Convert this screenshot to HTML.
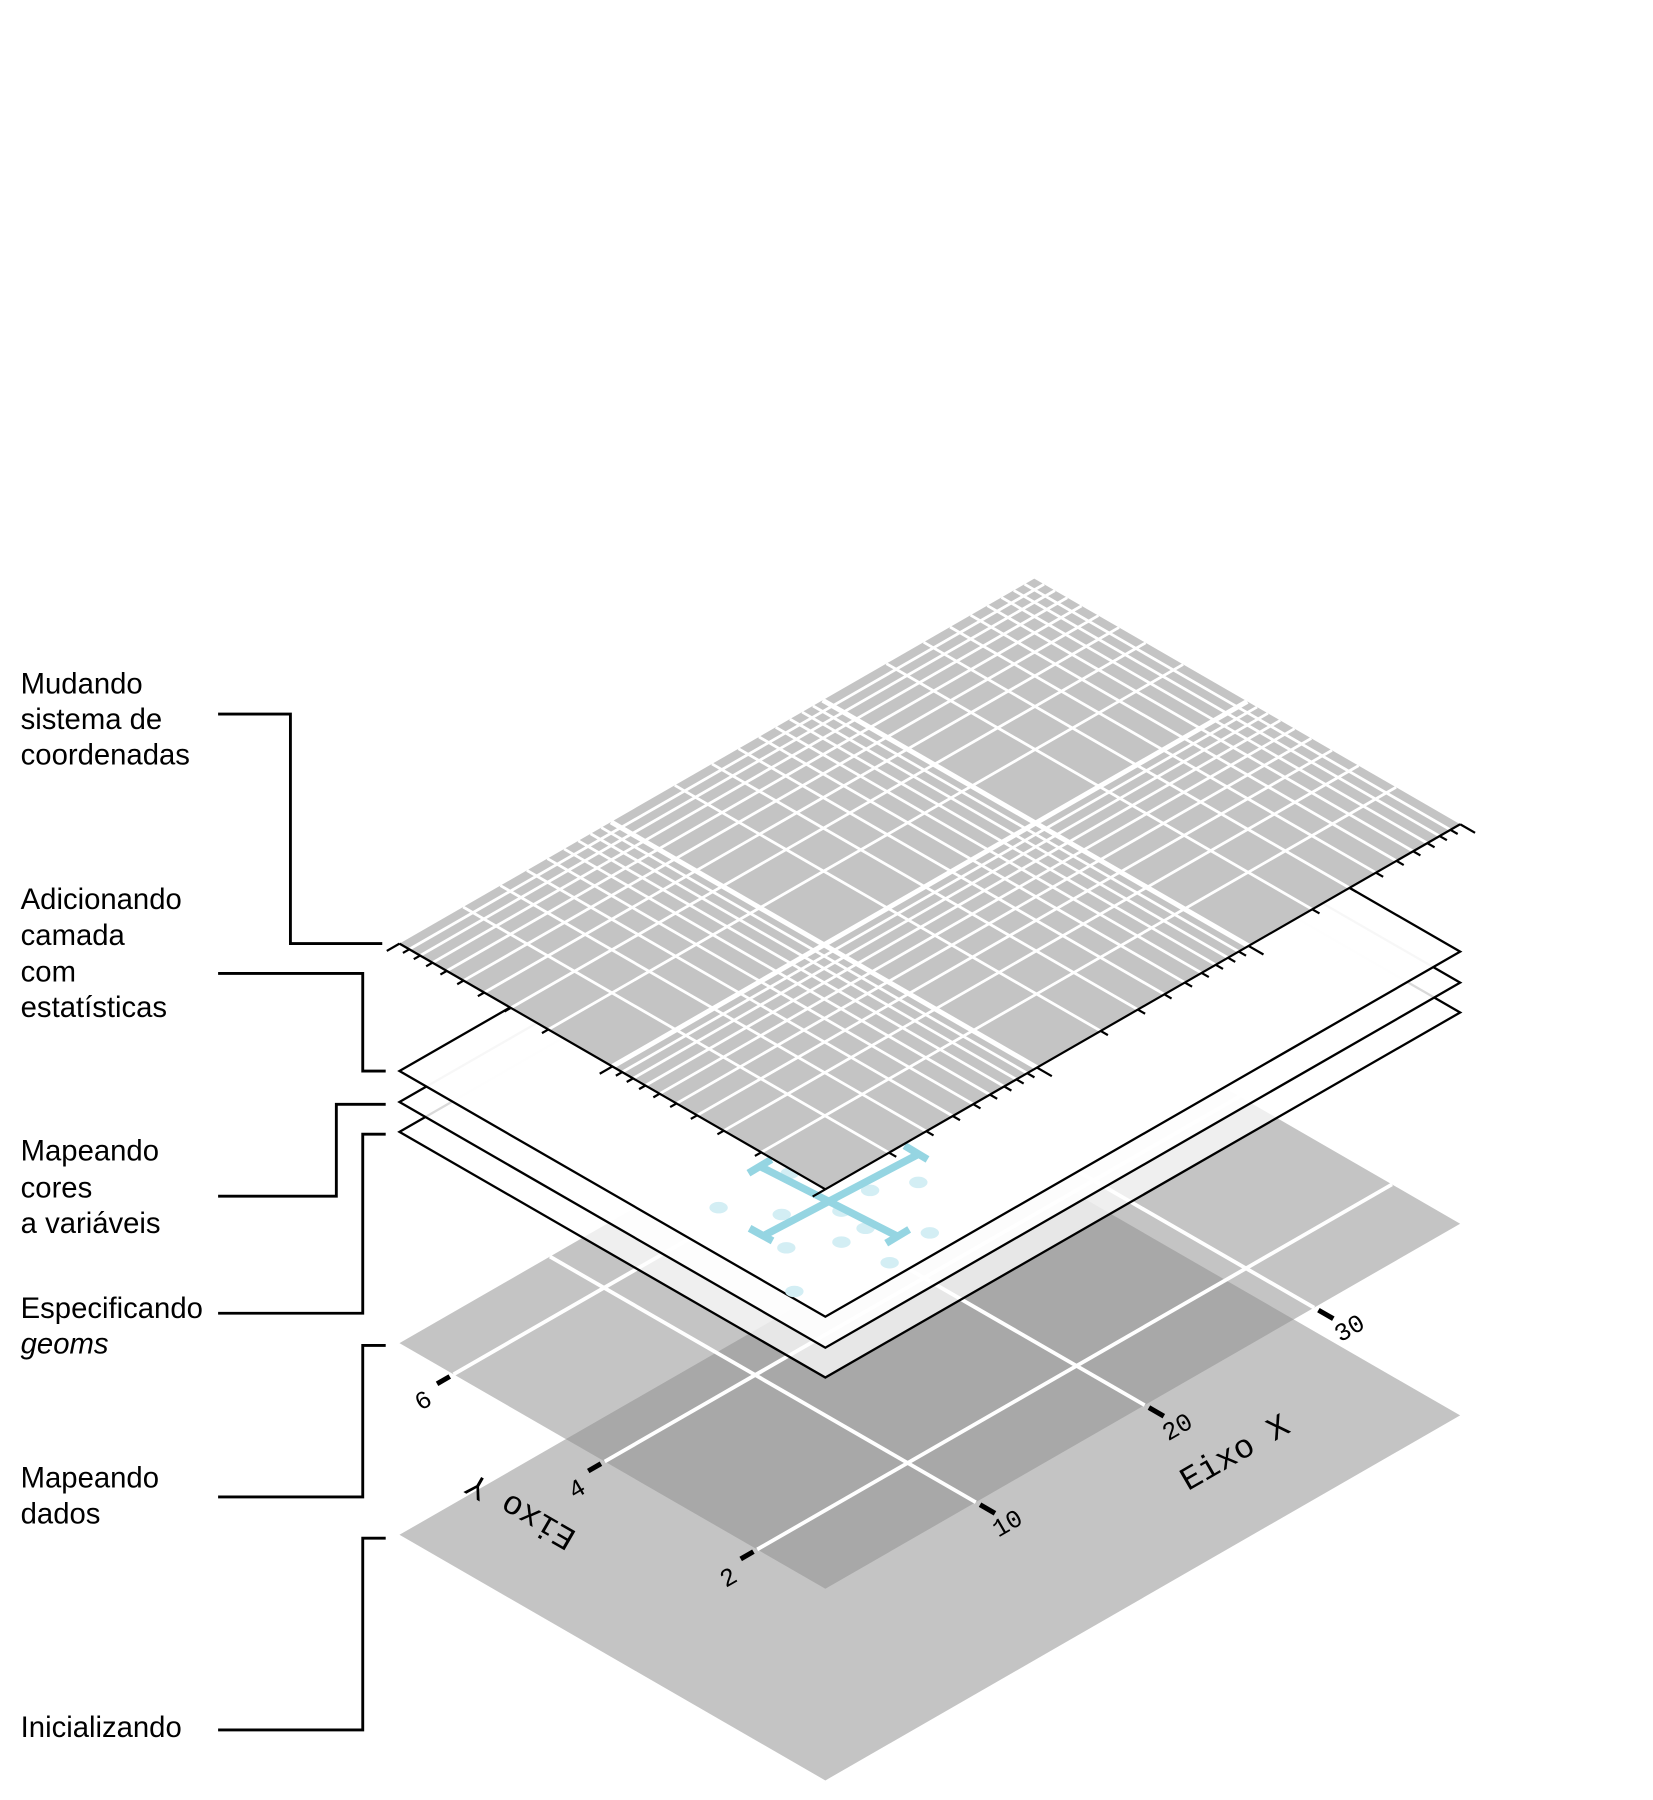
<!DOCTYPE html>
<html><head><meta charset="utf-8"><style>html,body{margin:0;padding:0;background:#fff}svg{display:block}</style></head>
<body>
<svg xmlns="http://www.w3.org/2000/svg" width="1653" height="1800" viewBox="0 0 1440 1568">
<defs>
<clipPath id="p2"><polygon points="348,1170 719,1384 1272,1066 901,852"/></clipPath>
</defs>
<polygon points="348,1337 719,1551 1272,1233 901,1019" fill="#c4c4c4"/>
<polygon points="348,1170 719,1384 1272,1066 901,852" fill="#c4c4c4"/>
<polygon points="348,1337 719,1551 1272,1233 901,1019" fill="#a8a8a8" clip-path="url(#p2)"/>
<g transform="matrix(553,-318,371,214,348,1170)" stroke="#fff" stroke-width="3.8" fill="none">
 <line x1="0.237" y1="0" x2="0.237" y2="1" vector-effect="non-scaling-stroke"/>
 <line x1="0.503" y1="0" x2="0.503" y2="1" vector-effect="non-scaling-stroke"/>
 <line x1="0.77" y1="0" x2="0.77" y2="1" vector-effect="non-scaling-stroke"/>
 <line x1="0" y1="0.127" x2="1" y2="0.127" vector-effect="non-scaling-stroke"/>
 <line x1="0" y1="0.482" x2="1" y2="0.482" vector-effect="non-scaling-stroke"/>
 <line x1="0" y1="0.84" x2="1" y2="0.84" vector-effect="non-scaling-stroke"/>
</g>
<g transform="matrix(553,-318,371,214,348,1170)" stroke="#000" fill="none">
 <line x1="0.237" y1="1.01" x2="0.237" y2="1.045" stroke-width="5" vector-effect="non-scaling-stroke"/>
 <line x1="0.503" y1="1.01" x2="0.503" y2="1.045" stroke-width="5" vector-effect="non-scaling-stroke"/>
 <line x1="0.77" y1="1.01" x2="0.77" y2="1.045" stroke-width="5" vector-effect="non-scaling-stroke"/>
 <line x1="-0.006" y1="0.127" x2="-0.026" y2="0.127" stroke-width="5" vector-effect="non-scaling-stroke"/>
 <line x1="-0.006" y1="0.482" x2="-0.026" y2="0.482" stroke-width="5" vector-effect="non-scaling-stroke"/>
 <line x1="-0.006" y1="0.84" x2="-0.026" y2="0.84" stroke-width="5" vector-effect="non-scaling-stroke"/>
</g>
<g font-family="Liberation Mono, monospace" font-size="22" fill="#000" text-anchor="middle">
 <text transform="translate(881,1333) rotate(-30)">10</text>
 <text transform="translate(1029,1249) rotate(-30)">20</text>
 <text transform="translate(1179,1163) rotate(-30)">30</text>
 <text transform="translate(372,1226) rotate(-30)">6</text>
 <text transform="translate(506,1303) rotate(-30)">4</text>
 <text transform="translate(638,1380) rotate(-30)">2</text>
 <text font-size="29" transform="translate(1080,1273) rotate(-30)">Eixo X</text>
 <text font-size="29" transform="translate(458,1309) rotate(210)">Eixo Y</text>
</g>
<polygon points="348,986 719,1200 1272,882 901,668" fill="#fff" fill-opacity="0.72" stroke="#000" stroke-width="2"/>
<polygon points="348,960 719,1174 1272,856 901,642" fill="#fff" fill-opacity="0.85" stroke="#000" stroke-width="2"/>
<polygon points="348,933 719,1147 1272,829 901,615" fill="#fff" fill-opacity="0.97" stroke="#000" stroke-width="2"/>
<g fill="#d3eef4">
 <ellipse cx="626" cy="1052" rx="8" ry="5"/><ellipse cx="681" cy="1058" rx="8" ry="5"/>
 <ellipse cx="733" cy="1055" rx="8" ry="5"/><ellipse cx="758" cy="1037" rx="8" ry="5"/>
 <ellipse cx="800" cy="1030" rx="8" ry="5"/><ellipse cx="810" cy="1074" rx="8" ry="5"/>
 <ellipse cx="775" cy="1100" rx="8" ry="5"/><ellipse cx="733" cy="1082" rx="8" ry="5"/>
 <ellipse cx="685" cy="1087" rx="8" ry="5"/><ellipse cx="754" cy="1070" rx="8" ry="5"/>
 <ellipse cx="692" cy="1125" rx="8" ry="5"/><ellipse cx="688" cy="1022" rx="8" ry="5"/>
</g>
<g stroke="#95d5e2" stroke-width="6.5" fill="none">
 <line x1="662" y1="1016" x2="782" y2="1077"/>
 <line x1="652" y1="1022" x2="672" y2="1010"/>
 <line x1="772" y1="1083" x2="792" y2="1071"/>
 <line x1="666" y1="1076" x2="801" y2="1005"/>
 <line x1="653" y1="1070" x2="673" y2="1081"/>
 <line x1="788" y1="998" x2="808" y2="1010"/>
</g>
<polygon points="348,822 719,1036 1272,718 901,504" fill="#c4c4c4"/>
<g transform="matrix(553,-318,371,214,348,822)" stroke="#fff" fill="none">
 <g stroke-width="2.8">
 <line x1=".1003" y1="0" x2=".1003" y2="1" vector-effect="non-scaling-stroke"/>
 <line x1=".159" y1="0" x2=".159" y2="1" vector-effect="non-scaling-stroke"/>
 <line x1=".2007" y1="0" x2=".2007" y2="1" vector-effect="non-scaling-stroke"/>
 <line x1=".233" y1="0" x2=".233" y2="1" vector-effect="non-scaling-stroke"/>
 <line x1=".2593" y1="0" x2=".2593" y2="1" vector-effect="non-scaling-stroke"/>
 <line x1=".2817" y1="0" x2=".2817" y2="1" vector-effect="non-scaling-stroke"/>
 <line x1=".301" y1="0" x2=".301" y2="1" vector-effect="non-scaling-stroke"/>
 <line x1=".318" y1="0" x2=".318" y2="1" vector-effect="non-scaling-stroke"/>
 <line x1=".4337" y1="0" x2=".4337" y2="1" vector-effect="non-scaling-stroke"/>
 <line x1=".4923" y1="0" x2=".4923" y2="1" vector-effect="non-scaling-stroke"/>
 <line x1=".534" y1="0" x2=".534" y2="1" vector-effect="non-scaling-stroke"/>
 <line x1=".5663" y1="0" x2=".5663" y2="1" vector-effect="non-scaling-stroke"/>
 <line x1=".5927" y1="0" x2=".5927" y2="1" vector-effect="non-scaling-stroke"/>
 <line x1=".615" y1="0" x2=".615" y2="1" vector-effect="non-scaling-stroke"/>
 <line x1=".6343" y1="0" x2=".6343" y2="1" vector-effect="non-scaling-stroke"/>
 <line x1=".6513" y1="0" x2=".6513" y2="1" vector-effect="non-scaling-stroke"/>
 <line x1=".767" y1="0" x2=".767" y2="1" vector-effect="non-scaling-stroke"/>
 <line x1=".8257" y1="0" x2=".8257" y2="1" vector-effect="non-scaling-stroke"/>
 <line x1=".8673" y1="0" x2=".8673" y2="1" vector-effect="non-scaling-stroke"/>
 <line x1=".8997" y1="0" x2=".8997" y2="1" vector-effect="non-scaling-stroke"/>
 <line x1=".926" y1="0" x2=".926" y2="1" vector-effect="non-scaling-stroke"/>
 <line x1=".9483" y1="0" x2=".9483" y2="1" vector-effect="non-scaling-stroke"/>
 <line x1=".9677" y1="0" x2=".9677" y2="1" vector-effect="non-scaling-stroke"/>
 <line x1=".9847" y1="0" x2=".9847" y2="1" vector-effect="non-scaling-stroke"/>
 <line y1=".3495" x1="0" y2=".3495" x2="1" vector-effect="non-scaling-stroke"/>
 <line y1=".2615" x1="0" y2=".2615" x2="1" vector-effect="non-scaling-stroke"/>
 <line y1=".199" x1="0" y2=".199" x2="1" vector-effect="non-scaling-stroke"/>
 <line y1=".1505" x1="0" y2=".1505" x2="1" vector-effect="non-scaling-stroke"/>
 <line y1=".111" x1="0" y2=".111" x2="1" vector-effect="non-scaling-stroke"/>
 <line y1=".0775" x1="0" y2=".0775" x2="1" vector-effect="non-scaling-stroke"/>
 <line y1=".0485" x1="0" y2=".0485" x2="1" vector-effect="non-scaling-stroke"/>
 <line y1=".023" x1="0" y2=".023" x2="1" vector-effect="non-scaling-stroke"/>
 <line y1=".8495" x1="0" y2=".8495" x2="1" vector-effect="non-scaling-stroke"/>
 <line y1=".7615" x1="0" y2=".7615" x2="1" vector-effect="non-scaling-stroke"/>
 <line y1=".699" x1="0" y2=".699" x2="1" vector-effect="non-scaling-stroke"/>
 <line y1=".6505" x1="0" y2=".6505" x2="1" vector-effect="non-scaling-stroke"/>
 <line y1=".611" x1="0" y2=".611" x2="1" vector-effect="non-scaling-stroke"/>
 <line y1=".5775" x1="0" y2=".5775" x2="1" vector-effect="non-scaling-stroke"/>
 <line y1=".5485" x1="0" y2=".5485" x2="1" vector-effect="non-scaling-stroke"/>
 <line y1=".523" x1="0" y2=".523" x2="1" vector-effect="non-scaling-stroke"/>
 </g>
 <g stroke-width="5">
 <line x1=".3333" y1="0" x2=".3333" y2="1" vector-effect="non-scaling-stroke"/>
 <line x1=".6667" y1="0" x2=".6667" y2="1" vector-effect="non-scaling-stroke"/>
 <line y1=".5" x1="0" y2=".5" x2="1" vector-effect="non-scaling-stroke"/>
 </g>
</g>
<g transform="matrix(553,-318,371,214,348,822)" stroke="#000" stroke-width="2.2" fill="none">
 <line x1="0" y1="0" x2="0" y2="1" vector-effect="non-scaling-stroke"/>
 <line x1="0" y1="1" x2="1" y2="1" vector-effect="non-scaling-stroke"/>
 <line x1="0" y1="0" x2="-.02" y2="0" vector-effect="non-scaling-stroke"/>
 <line x1="0" y1=".5" x2="-.02" y2=".5" vector-effect="non-scaling-stroke"/>
 <line x1="0" y1="1" x2="-.02" y2="1" vector-effect="non-scaling-stroke"/>
 <line x1="0" y1=".3495" x2="-.01" y2=".3495" vector-effect="non-scaling-stroke"/>
 <line x1="0" y1=".2615" x2="-.01" y2=".2615" vector-effect="non-scaling-stroke"/>
 <line x1="0" y1=".199" x2="-.01" y2=".199" vector-effect="non-scaling-stroke"/>
 <line x1="0" y1=".1505" x2="-.01" y2=".1505" vector-effect="non-scaling-stroke"/>
 <line x1="0" y1=".111" x2="-.01" y2=".111" vector-effect="non-scaling-stroke"/>
 <line x1="0" y1=".0775" x2="-.01" y2=".0775" vector-effect="non-scaling-stroke"/>
 <line x1="0" y1=".0485" x2="-.01" y2=".0485" vector-effect="non-scaling-stroke"/>
 <line x1="0" y1=".023" x2="-.01" y2=".023" vector-effect="non-scaling-stroke"/>
 <line x1="0" y1=".8495" x2="-.01" y2=".8495" vector-effect="non-scaling-stroke"/>
 <line x1="0" y1=".7615" x2="-.01" y2=".7615" vector-effect="non-scaling-stroke"/>
 <line x1="0" y1=".699" x2="-.01" y2=".699" vector-effect="non-scaling-stroke"/>
 <line x1="0" y1=".6505" x2="-.01" y2=".6505" vector-effect="non-scaling-stroke"/>
 <line x1="0" y1=".611" x2="-.01" y2=".611" vector-effect="non-scaling-stroke"/>
 <line x1="0" y1=".5775" x2="-.01" y2=".5775" vector-effect="non-scaling-stroke"/>
 <line x1="0" y1=".5485" x2="-.01" y2=".5485" vector-effect="non-scaling-stroke"/>
 <line x1="0" y1=".523" x2="-.01" y2=".523" vector-effect="non-scaling-stroke"/>
 <line x1=".3333" y1="1" x2=".3333" y2="1.035" vector-effect="non-scaling-stroke"/>
 <line x1=".6667" y1="1" x2=".6667" y2="1.035" vector-effect="non-scaling-stroke"/>
 <line x1="1" y1="1" x2="1" y2="1.035" vector-effect="non-scaling-stroke"/>
 <line x1=".1003" y1="1" x2=".1003" y2="1.017" vector-effect="non-scaling-stroke"/>
 <line x1=".159" y1="1" x2=".159" y2="1.017" vector-effect="non-scaling-stroke"/>
 <line x1=".2007" y1="1" x2=".2007" y2="1.017" vector-effect="non-scaling-stroke"/>
 <line x1=".233" y1="1" x2=".233" y2="1.017" vector-effect="non-scaling-stroke"/>
 <line x1=".2593" y1="1" x2=".2593" y2="1.017" vector-effect="non-scaling-stroke"/>
 <line x1=".2817" y1="1" x2=".2817" y2="1.017" vector-effect="non-scaling-stroke"/>
 <line x1=".301" y1="1" x2=".301" y2="1.017" vector-effect="non-scaling-stroke"/>
 <line x1=".318" y1="1" x2=".318" y2="1.017" vector-effect="non-scaling-stroke"/>
 <line x1=".4337" y1="1" x2=".4337" y2="1.017" vector-effect="non-scaling-stroke"/>
 <line x1=".4923" y1="1" x2=".4923" y2="1.017" vector-effect="non-scaling-stroke"/>
 <line x1=".534" y1="1" x2=".534" y2="1.017" vector-effect="non-scaling-stroke"/>
 <line x1=".5663" y1="1" x2=".5663" y2="1.017" vector-effect="non-scaling-stroke"/>
 <line x1=".5927" y1="1" x2=".5927" y2="1.017" vector-effect="non-scaling-stroke"/>
 <line x1=".615" y1="1" x2=".615" y2="1.017" vector-effect="non-scaling-stroke"/>
 <line x1=".6343" y1="1" x2=".6343" y2="1.017" vector-effect="non-scaling-stroke"/>
 <line x1=".6513" y1="1" x2=".6513" y2="1.017" vector-effect="non-scaling-stroke"/>
 <line x1=".767" y1="1" x2=".767" y2="1.017" vector-effect="non-scaling-stroke"/>
 <line x1=".8257" y1="1" x2=".8257" y2="1.017" vector-effect="non-scaling-stroke"/>
 <line x1=".8673" y1="1" x2=".8673" y2="1.017" vector-effect="non-scaling-stroke"/>
 <line x1=".8997" y1="1" x2=".8997" y2="1.017" vector-effect="non-scaling-stroke"/>
 <line x1=".926" y1="1" x2=".926" y2="1.017" vector-effect="non-scaling-stroke"/>
 <line x1=".9483" y1="1" x2=".9483" y2="1.017" vector-effect="non-scaling-stroke"/>
 <line x1=".9677" y1="1" x2=".9677" y2="1.017" vector-effect="non-scaling-stroke"/>
 <line x1=".9847" y1="1" x2=".9847" y2="1.017" vector-effect="non-scaling-stroke"/>
</g>
<g stroke="#000" stroke-width="2.5" fill="none">
 <polyline points="190,622 253,622 253,822 333,822"/>
 <polyline points="190,848 316,848 316,933 336,933"/>
 <polyline points="190,1042 293,1042 293,962 336,962"/>
 <polyline points="190,1144 316,1144 316,988 336,988"/>
 <polyline points="190,1304 316,1304 316,1172 336,1172"/>
 <polyline points="190,1507 316,1507 316,1340 336,1340"/>
</g>
<g font-family="Liberation Sans, sans-serif" font-size="25.5" fill="#000">
 <text x="18" y="604">Mudando</text>
 <text x="18" y="635">sistema de</text>
 <text x="18" y="666">coordenadas</text>
 <text x="18" y="792">Adicionando</text>
 <text x="18" y="823">camada</text>
 <text x="18" y="855">com</text>
 <text x="18" y="886">estatísticas</text>
 <text x="18" y="1011">Mapeando</text>
 <text x="18" y="1043">cores</text>
 <text x="18" y="1074">a variáveis</text>
 <text x="18" y="1148">Especificando</text>
 <text x="18" y="1179" font-style="italic">geoms</text>
 <text x="18" y="1296">Mapeando</text>
 <text x="18" y="1327">dados</text>
 <text x="18" y="1513">Inicializando</text>
</g>
</svg>
</body></html>
